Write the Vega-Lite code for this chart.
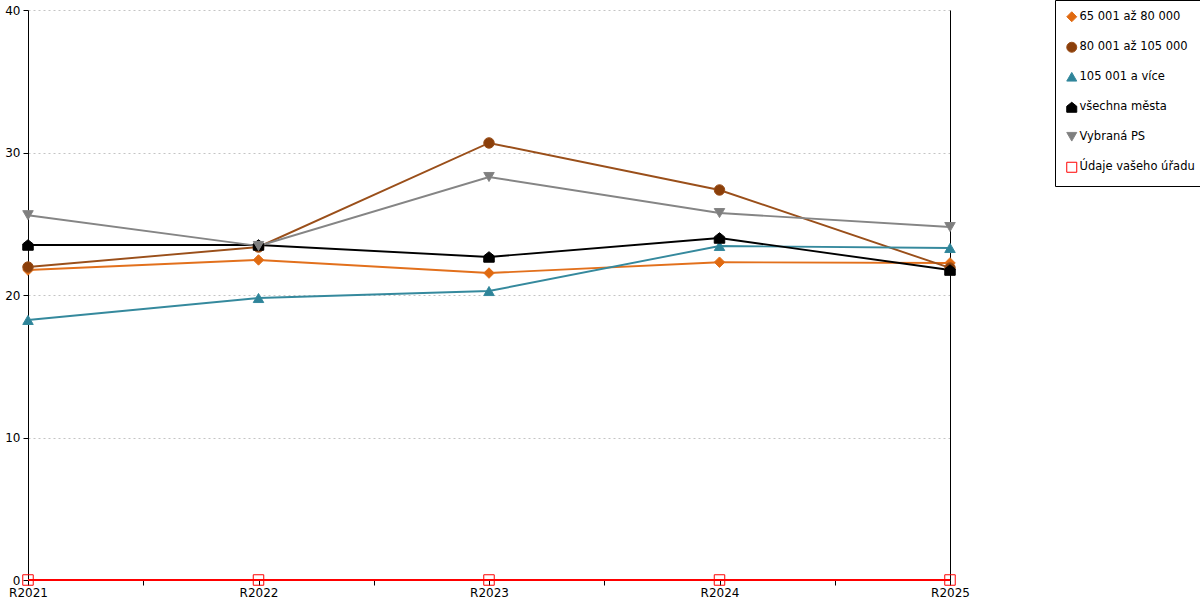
{
  "$schema": "https://vega.github.io/schema/vega-lite/v6.json",
  "autosize": "none",
  "padding": {"left": 28, "top": 10, "right": 250, "bottom": 20},
  "width": 922,
  "height": 570,
  "background": "white",
  "config": {
    "view": {"stroke": null},
    "font": "DejaVu Sans",
    "axis": {"labelFont": "DejaVu Sans", "labelFontSize": 12, "labelColor": "#000", "domainColor": "#000", "tickColor": "#000"},
    "legend": {
      "title": null, "orient": "none", "legendX": 1027, "legendY": -10,
      "padding": 11, "strokeColor": "#000", "fillColor": "white",
      "labelFont": "DejaVu Sans", "labelFontSize": 11.5, "labelColor": "#000",
      "symbolSize": 100, "rowPadding": 15.5, "labelOffset": 2, "symbolStrokeWidth": 1,
      "labelLimit": 200
    }
  },
  "data": {
    "values": [
      {"rok": 2021, "skupina": "65 001 až 80 000", "hodnota": 21.75},
      {"rok": 2022, "skupina": "65 001 až 80 000", "hodnota": 22.46},
      {"rok": 2023, "skupina": "65 001 až 80 000", "hodnota": 21.54},
      {"rok": 2024, "skupina": "65 001 až 80 000", "hodnota": 22.3},
      {"rok": 2025, "skupina": "65 001 až 80 000", "hodnota": 22.25},
      {"rok": 2021, "skupina": "80 001 až 105 000", "hodnota": 21.96},
      {"rok": 2022, "skupina": "80 001 až 105 000", "hodnota": 23.37},
      {"rok": 2023, "skupina": "80 001 až 105 000", "hodnota": 30.67},
      {"rok": 2024, "skupina": "80 001 až 105 000", "hodnota": 27.37},
      {"rok": 2025, "skupina": "80 001 až 105 000", "hodnota": 21.9},
      {"rok": 2021, "skupina": "105 001 a více", "hodnota": 18.25},
      {"rok": 2022, "skupina": "105 001 a více", "hodnota": 19.79},
      {"rok": 2023, "skupina": "105 001 a více", "hodnota": 20.28},
      {"rok": 2024, "skupina": "105 001 a více", "hodnota": 23.44},
      {"rok": 2025, "skupina": "105 001 a více", "hodnota": 23.3},
      {"rok": 2021, "skupina": "všechna města", "hodnota": 23.51},
      {"rok": 2022, "skupina": "všechna města", "hodnota": 23.51},
      {"rok": 2023, "skupina": "všechna města", "hodnota": 22.67},
      {"rok": 2024, "skupina": "všechna města", "hodnota": 24.0},
      {"rok": 2025, "skupina": "všechna města", "hodnota": 21.75},
      {"rok": 2021, "skupina": "Vybraná PS", "hodnota": 25.6},
      {"rok": 2022, "skupina": "Vybraná PS", "hodnota": 23.44},
      {"rok": 2023, "skupina": "Vybraná PS", "hodnota": 28.28},
      {"rok": 2024, "skupina": "Vybraná PS", "hodnota": 25.75},
      {"rok": 2025, "skupina": "Vybraná PS", "hodnota": 24.77},
      {"rok": 2021, "skupina": "Údaje vašeho úřadu", "hodnota": 0},
      {"rok": 2022, "skupina": "Údaje vašeho úřadu", "hodnota": 0},
      {"rok": 2023, "skupina": "Údaje vašeho úřadu", "hodnota": 0},
      {"rok": 2024, "skupina": "Údaje vašeho úřadu", "hodnota": 0},
      {"rok": 2025, "skupina": "Údaje vašeho úřadu", "hodnota": 0}
    ]
  },
  "encoding": {
    "x": {
      "field": "rok", "type": "quantitative",
      "scale": {"domain": [2021, 2025], "nice": false, "zero": false},
      "axis": {
        "title": null, "grid": false,
        "values": [2021, 2021.5, 2022, 2022.5, 2023, 2023.5, 2024, 2024.5, 2025],
        "labelExpr": "datum.value % 1 == 0 ? 'R' + datum.value : ''",
        "tickSize": 5, "labelPadding": 2, "labelFlush": false, "labelOverlap": false
      }
    },
    "y": {
      "field": "hodnota", "type": "quantitative",
      "scale": {"domain": [0, 40], "nice": false}
    },
    "stroke": {
      "field": "skupina", "type": "nominal",
      "scale": {
        "domain": ["65 001 až 80 000", "80 001 až 105 000", "105 001 a více", "všechna města", "Vybraná PS", "Údaje vašeho úřadu"],
        "range": ["#e2701c", "#9a4f1a", "#35899d", "#000000", "#858585", "#ff0000"]
      }
    }
  },
  "layer": [
    {
      "mark": {"type": "line", "strokeWidth": 1.9},
      "encoding": {
        "y": {
          "field": "hodnota", "type": "quantitative",
          "axis": {"title": null, "values": [0, 10, 20, 30, 40], "tickSize": 5, "labelPadding": 3,
                   "grid": true, "gridColor": "#c4c4c4", "gridDash": [2, 3], "gridWidth": 1}
        }
      }
    },
    {
      "mark": {"type": "point", "filled": false, "opacity": 1, "strokeWidth": 1},
      "encoding": {
        "y": {
          "field": "hodnota", "type": "quantitative",
          "axis": {"title": null, "orient": "right", "labels": false, "ticks": false, "grid": false}
        },
        "shape": {
          "field": "skupina", "type": "nominal",
          "scale": {
            "domain": ["65 001 až 80 000", "80 001 až 105 000", "105 001 a více", "všechna města", "Vybraná PS", "Údaje vašeho úřadu"],
            "range": ["diamond", "circle", "triangle-up", "M-1,1L1,1L1,-0.2L0,-1L-1,-0.2Z", "triangle-down", "square"]
          }
        },
        "fill": {
          "field": "skupina", "type": "nominal",
          "scale": {
            "domain": ["65 001 až 80 000", "80 001 až 105 000", "105 001 a více", "všechna města", "Vybraná PS", "Údaje vašeho úřadu"],
            "range": ["#e06a10", "#8b3f0a", "#2e8499", "#000000", "#7f7f7f", "transparent"]
          }
        },
        "size": {"value": 110}
      }
    }
  ],
  "resolve": {"axis": {"y": "independent"}}
}
